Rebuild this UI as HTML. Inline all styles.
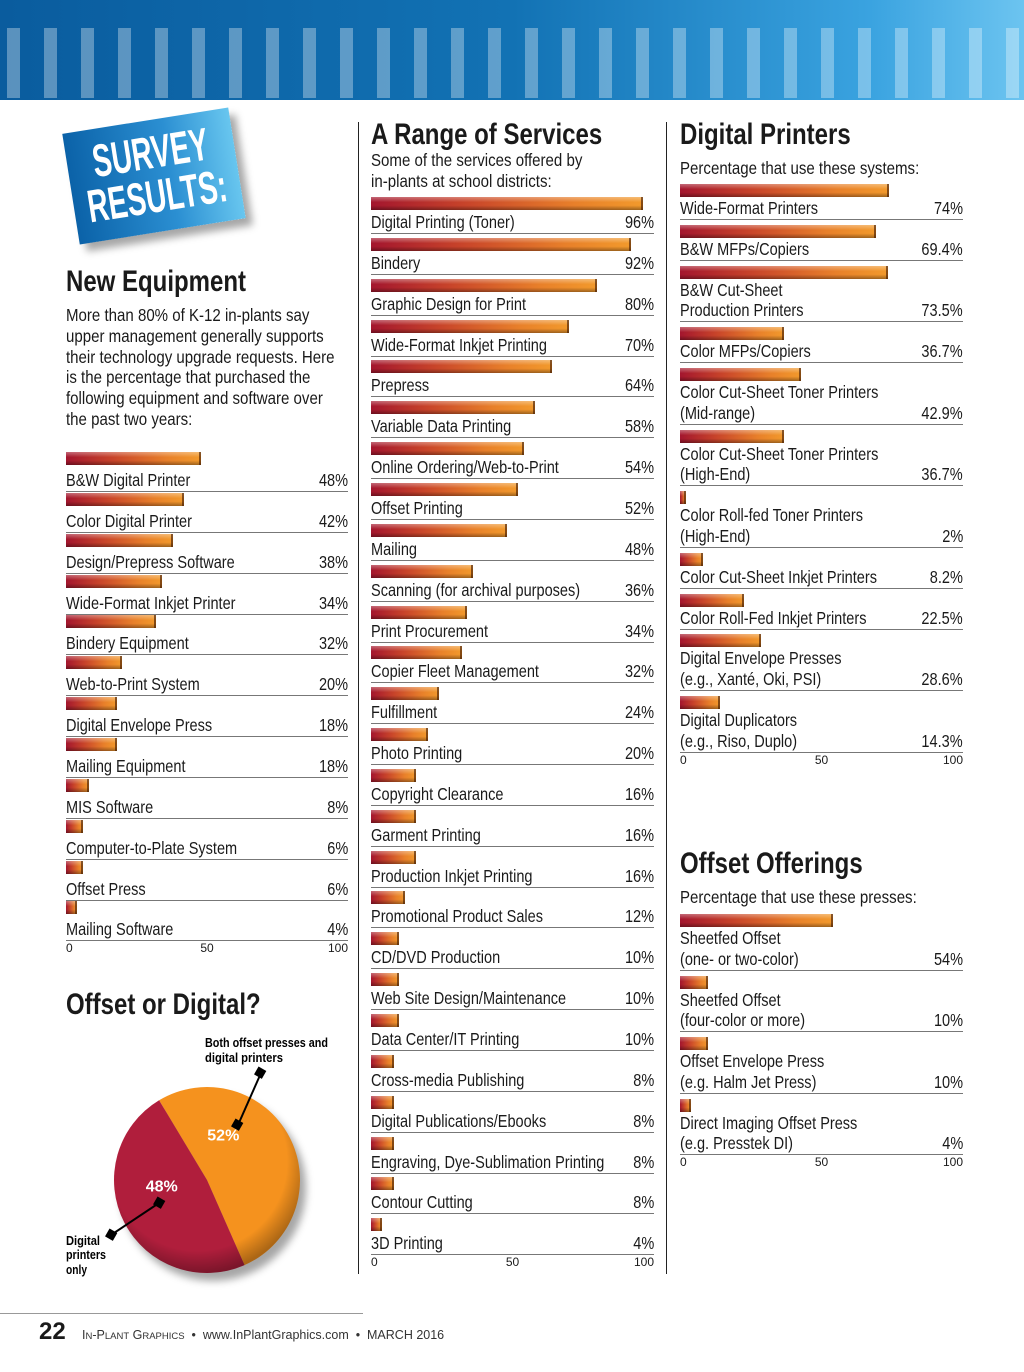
<!DOCTYPE html>
<html><head><meta charset="utf-8">
<style>
body{margin:0;width:1024px;height:1372px;position:relative;background:#fff;overflow:hidden;font-family:"Liberation Sans",sans-serif;color:#1a1a1a}
.abs{position:absolute}
.n{display:inline-block;transform:scaleX(.83);transform-origin:0 0;white-space:nowrap}
.nr{display:inline-block;transform:scaleX(.83);transform-origin:100% 0;white-space:nowrap}
.title{position:absolute;font-weight:bold;font-size:30px;line-height:30px;white-space:nowrap;transform:scaleX(.8);transform-origin:0 0}
.sub{position:absolute;font-size:17.5px;line-height:20.8px;transform:scaleX(.86);transform-origin:0 0}
.lbl{position:absolute;font-size:17.5px;line-height:20.7px;white-space:nowrap}
.val{position:absolute;font-size:17.5px;line-height:20.7px;text-align:right}
.bar{position:absolute;height:13px;background:linear-gradient(180deg,rgba(255,255,255,.35) 0%,rgba(255,255,255,0) 40%,rgba(0,0,0,0) 65%,rgba(0,0,0,.35) 100%),linear-gradient(90deg,#a3162e 0%,#c8442a 35%,#e8802a 75%,#f29a2c 100%);box-shadow:inset -2px 0 0 rgba(60,20,0,.6)}
.rule{position:absolute;height:1px;background:#777}
.tick{position:absolute;font-family:"Liberation Sans",sans-serif;font-size:12px;line-height:12px}
</style></head><body>
<div class="abs" style="left:0;top:0;width:1024px;height:100px;background:linear-gradient(90deg,#0a5c9e 0%,#1272b4 50%,#3aa3e0 85%,#6cc4f0 100%)">
<div id="stripes"></div></div>

<div class="abs" style="left:70px;top:120px;width:168px;height:112px;transform:rotate(-9deg);background:linear-gradient(90deg,#0b62a8,#2b8fd2 60%,#68c6ef);box-shadow:6px 8px 8px rgba(0,0,0,.35)">
<div style="position:absolute;left:-30px;top:10px;width:228px;text-align:center;color:#fff;font-weight:bold;font-size:46px;line-height:44px;transform:scaleX(.62)">SURVEY<br>RESULTS:</div></div>

<div class="title" style="left:66px;top:267px">New Equipment</div>
<div class="sub" style="left:66px;top:305px;width:356px;white-space:nowrap">More than 80% of K-12 in-plants say<br>upper management generally supports<br>their technology upgrade requests. Here<br>is the percentage that purchased the<br>following equipment and software over<br>the past two years:</div>

<div class="abs" style="left:358px;top:122px;width:1px;height:1152px;background:#222"></div>
<div class="abs" style="left:666px;top:122px;width:1px;height:1152px;background:#222"></div>

<div class="title" style="left:371px;top:120px">A Range of Services</div>
<div class="sub" style="left:371px;top:150px;white-space:nowrap">Some of the services offered by<br>in-plants at school districts:</div>

<div class="title" style="left:680px;top:120px">Digital Printers</div>
<div class="sub" style="left:680px;top:158px;white-space:nowrap">Percentage that use these systems:</div>

<div class="title" style="left:680px;top:849px">Offset Offerings</div>
<div class="sub" style="left:680px;top:887px;white-space:nowrap">Percentage that use these presses:</div>

<div class="title" style="left:66px;top:990px">Offset or Digital?</div>

<svg class="abs" style="left:0;top:1020px" width="358" height="270">
<defs>
<radialGradient id="shade" cx="45%" cy="40%" r="60%"><stop offset="80%" stop-color="#000" stop-opacity="0"/><stop offset="100%" stop-color="#000" stop-opacity=".3"/></radialGradient>
<filter id="sh"><feGaussianBlur stdDeviation="4"/></filter>
</defs>
<g id="pie"></g>
<g font-family="Liberation Sans, sans-serif" font-weight="bold" font-size="12.5">
<text x="205" y="27" textLength="123" lengthAdjust="spacingAndGlyphs">Both offset presses and</text>
<text x="205" y="42" textLength="78" lengthAdjust="spacingAndGlyphs">digital printers</text>
<text x="66" y="225" textLength="34" lengthAdjust="spacingAndGlyphs">Digital</text>
<text x="66" y="239" textLength="40" lengthAdjust="spacingAndGlyphs">printers</text>
<text x="66" y="254" textLength="21" lengthAdjust="spacingAndGlyphs">only</text>
</g>
<line x1="261" y1="53" x2="238" y2="105" stroke="#000" stroke-width="2"/>
<rect x="256" y="48" width="9" height="9" transform="rotate(30 260 52)"/>
<rect x="233" y="100" width="9" height="9" transform="rotate(30 237 104)"/>
<line x1="159" y1="183" x2="111" y2="215" stroke="#000" stroke-width="2"/>
<rect x="155" y="178" width="9" height="9" transform="rotate(30 159 182)"/>
<rect x="107" y="210" width="9" height="9" transform="rotate(30 111 214)"/>
</svg>

<div class="abs" style="left:0;top:1313px;width:363px;height:1px;background:#999"></div>
<div class="abs" style="left:39px;top:1318px;font-family:'Liberation Sans',sans-serif;font-weight:bold;font-size:24px">22</div>
<div class="abs" style="left:82px;top:1328px;font-family:'Liberation Sans',sans-serif;font-size:12.5px;color:#333;white-space:nowrap">I<span style="font-size:9.5px">N</span>-P<span style="font-size:9.5px">LANT</span> G<span style="font-size:9.5px">RAPHICS</span> &nbsp;•&nbsp; www.InPlantGraphics.com &nbsp;•&nbsp; MARCH 2016</div>

<script>
// ---- data ----
const equipLabels=["B&W Digital Printer","Color Digital Printer","Design/Prepress Software","Wide-Format Inkjet Printer","Bindery Equipment","Web-to-Print System","Digital Envelope Press","Mailing Equipment","MIS Software","Computer-to-Plate System","Offset Press","Mailing Software"];
const equipValues=[48,42,38,34,32,20,18,18,8,6,6,4];
const equipText=["48%","42%","38%","34%","32%","20%","18%","18%","8%","6%","6%","4%"];

const servLabels=["Digital Printing (Toner)","Bindery","Graphic Design for Print","Wide-Format Inkjet Printing","Prepress","Variable Data Printing","Online Ordering/Web-to-Print","Offset Printing","Mailing","Scanning (for archival purposes)","Print Procurement","Copier Fleet Management","Fulfillment","Photo Printing","Copyright Clearance","Garment Printing","Production Inkjet Printing","Promotional Product Sales","CD/DVD Production","Web Site Design/Maintenance","Data Center/IT Printing","Cross-media Publishing","Digital Publications/Ebooks","Engraving, Dye-Sublimation Printing","Contour Cutting","3D Printing"];
const servValues=[96,92,80,70,64,58,54,52,48,36,34,32,24,20,16,16,16,12,10,10,10,8,8,8,8,4];
const servText=["96%","92%","80%","70%","64%","58%","54%","52%","48%","36%","34%","32%","24%","20%","16%","16%","16%","12%","10%","10%","10%","8%","8%","8%","8%","4%"];

const digLabels=["Wide-Format Printers","B&W MFPs/Copiers","B&W Cut-Sheet\nProduction Printers","Color MFPs/Copiers","Color Cut-Sheet Toner Printers\n(Mid-range)","Color Cut-Sheet Toner Printers\n(High-End)","Color Roll-fed Toner Printers\n(High-End)","Color Cut-Sheet Inkjet Printers","Color Roll-Fed Inkjet Printers","Digital Envelope Presses\n(e.g., Xanté, Oki, PSI)","Digital Duplicators\n(e.g., Riso, Duplo)"];
const digValues=[74,69.4,73.5,36.7,42.9,36.7,2,8.2,22.5,28.6,14.3];
const digText=["74%","69.4%","73.5%","36.7%","42.9%","36.7%","2%","8.2%","22.5%","28.6%","14.3%"];

const offLabels=["Sheetfed Offset\n(one- or two-color)","Sheetfed Offset\n(four-color or more)","Offset Envelope Press\n(e.g. Halm Jet Press)","Direct Imaging Offset Press\n(e.g. Presstek DI)"];
const offValues=[54,10,10,4];
const offText=["54%","10%","10%","4%"];

const tickValues=[0,50,100];
const pieValues=[52,48];
const pieText=["52%","48%"];

// ---- stripes ----
const st=document.getElementById('stripes');
for(let i=0;i<28;i++){
  const s=document.createElement('div');
  
  
  s.style.cssText=`position:absolute;left:${7+i*37}px;top:28px;width:13px;height:70px;background:rgba(255,255,255,.33)`;
  st.appendChild(s);
}

function esc(t){return t.replace(/&/g,'&amp;');}
function chart(name,x0,w,top,labels,values,texts,shift){
  const sx=v=>x0+v/100*w;
  let y=top;
  let u=top;
  labels.forEach((lab,i)=>{
    const lines=lab.split("\n");
    const b=document.createElement('div');b.className='bar';
    
    
    b.style.left=x0+'px';b.style.top=y+'px';b.style.width=Math.max(sx(values[i])-x0,3)+'px';
    document.body.appendChild(b);
    const l=document.createElement('div');l.className='lbl';
    
    
    l.style.left=x0+'px';l.style.top=(y+15+shift)+'px';
    l.innerHTML='<span class="n">'+lines.map(esc).join('<br>')+'</span>';
    document.body.appendChild(l);
    const lastTop=y+15+shift+20.7*(lines.length-1);
    const v=document.createElement('div');v.className='val';
    
    
    v.style.left=(x0+w-80)+'px';v.style.width='80px';v.style.top=lastTop+'px';
    v.innerHTML='<span class="nr">'+texts[i]+'</span>';
    document.body.appendChild(v);
    u=y+36+shift+20.7*(lines.length-1);
    const r=document.createElement('div');r.className='rule';
    
    
    r.style.left=x0+'px';r.style.top=u+'px';r.style.width=w+'px';
    document.body.appendChild(r);
    y=u-shift+4.85;
  });
  tickValues.forEach((t,j)=>{
    const d=document.createElement('div');d.className='tick';
    
    
    const x=sx(t);
    d.style.top=(u+2)+'px';
    if(j===0){d.style.left=x+'px';}
    else if(j===tickValues.length-1){d.style.left=(x-40)+'px';d.style.width='40px';d.style.textAlign='right';}
    else{d.style.left=(x-20)+'px';d.style.width='40px';d.style.textAlign='center';}
    d.textContent=t;
    document.body.appendChild(d);
  });
}
chart('equipment',66,282,452,equipLabels,equipValues,equipText,3);
chart('services',371,283,197,servLabels,servValues,servText,0);
chart('digital-printers',680,283,184,digLabels,digValues,digText,-1);
chart('offset-offerings',680,283,914,offLabels,offValues,offText,-1);

// ---- pie ----
const NS='http://www.w3.org/2000/svg';
const pie=document.getElementById('pie');
const cx=207,cy=160,R=93;
const sh=document.createElementNS(NS,'circle');
sh.setAttribute('cx',cx+6);sh.setAttribute('cy',cy+8);sh.setAttribute('r',R);sh.setAttribute('fill','rgba(0,0,0,.35)');sh.setAttribute('filter','url(#sh)');
pie.appendChild(sh);
const colors=["#f5921e","#b01e3c"];
const total=pieValues.reduce((a,b)=>a+b,0);
let a0=-31;
const labelEls=[];
pieValues.forEach((v,i)=>{
  const a1=a0+v/total*360;
  const p=(a)=>[cx+R*Math.sin(a*Math.PI/180),cy-R*Math.cos(a*Math.PI/180)];
  const [x1,y1]=p(a0),[x2,y2]=p(a1);
  const path=document.createElementNS(NS,'path');
  
  
  path.setAttribute('d',`M${cx},${cy}L${x1},${y1}A${R},${R} 0 ${a1-a0>180?1:0} 1 ${x2},${y2}Z`);
  path.setAttribute('fill',colors[i]);
  pie.appendChild(path);
  const mid=(a0+a1)/2;
  const tx=cx+R*0.5*Math.sin(mid*Math.PI/180), ty=cy-R*0.5*Math.cos(mid*Math.PI/180);
  const t=document.createElementNS(NS,'text');
  
  
  t.setAttribute('x',i===0?tx-41:tx-20);t.setAttribute('y',i===0?ty-18:ty-10);
  t.setAttribute('fill','#fff');t.setAttribute('font-weight','bold');t.setAttribute('font-size','16');
  t.setAttribute('font-family','Liberation Sans, sans-serif');
  t.textContent=pieText[i];
  labelEls.push(t);
  a0=a1;
});
const ov=document.createElementNS(NS,'circle');
ov.setAttribute('cx',cx);ov.setAttribute('cy',cy);ov.setAttribute('r',R);ov.setAttribute('fill','url(#shade)');
pie.appendChild(ov);
labelEls.forEach(t=>pie.appendChild(t));
</script>
</body></html>
